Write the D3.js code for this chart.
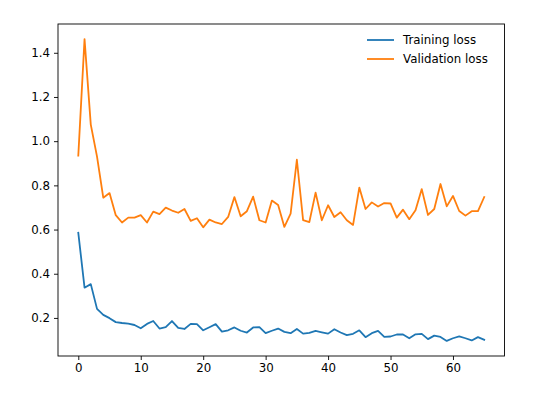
<!DOCTYPE html>
<html>
<head>
<meta charset="utf-8">
<script src="https://cdn.jsdelivr.net/npm/d3@7"></script>
<style>
  body { margin: 0; background: #fff; }
  svg text { font-family: "DejaVu Sans", sans-serif; fill: #000; }
</style>
</head>
<body>
<svg id="chart" width="546" height="397"></svg>
<script>
// loss values per epoch
const trainingLoss = [
    0.585, 0.337, 0.353, 0.241, 0.214, 0.199, 0.181, 0.177, 0.174, 0.168,
    0.153, 0.173, 0.186, 0.152, 0.158, 0.186, 0.155, 0.150, 0.173, 0.172,
    0.144, 0.158, 0.172, 0.138, 0.144, 0.157, 0.142, 0.134, 0.157, 0.158,
    0.131, 0.142, 0.152, 0.137, 0.131, 0.150, 0.129, 0.132, 0.141, 0.135,
    0.129, 0.149, 0.134, 0.122, 0.128, 0.144, 0.113, 0.131, 0.141, 0.114,
    0.116, 0.125, 0.125, 0.108, 0.126, 0.128, 0.104, 0.120, 0.114, 0.096,
    0.108, 0.116, 0.108, 0.098, 0.113, 0.101
];
const validationLoss = [
    0.935, 1.462, 1.075, 0.930, 0.744, 0.765, 0.665, 0.632, 0.654, 0.654,
    0.665, 0.632, 0.681, 0.670, 0.699, 0.686, 0.676, 0.693, 0.639, 0.651,
    0.610, 0.645, 0.632, 0.625, 0.657, 0.747, 0.660, 0.683, 0.749, 0.642,
    0.632, 0.731, 0.711, 0.612, 0.672, 0.916, 0.643, 0.634, 0.767, 0.642,
    0.710, 0.657, 0.678, 0.642, 0.621, 0.790, 0.693, 0.723, 0.704, 0.720,
    0.718, 0.654, 0.690, 0.647, 0.687, 0.783, 0.666, 0.693, 0.806, 0.705,
    0.752, 0.684, 0.663, 0.683, 0.683, 0.747
];
const seriesNames = ["Training loss", "Validation loss"];
const seriesColors = ["#1f77b4", "#ff7f0e"];
const xTicks = [0, 10, 20, 30, 40, 50, 60];
const yTicks = [0.2, 0.4, 0.6, 0.8, 1.0, 1.2, 1.4];

const svg = d3.select("#chart");
const plot = { left: 58, right: 504.5, top: 24, bottom: 356 };
const fontSize = 11.8;

const epochs = d3.range(trainingLoss.length);
const all = trainingLoss.concat(validationLoss);
const xPad = (epochs.length - 1) * 0.05;
const yMin = d3.min(all), yMax = d3.max(all);
const yPad = (yMax - yMin) * 0.05;

const x = d3.scaleLinear()
    .domain([-xPad, epochs.length - 1 + xPad])
    .range([plot.left, plot.right]);
const y = d3.scaleLinear()
    .domain([yMin - yPad, yMax + yPad])
    .range([plot.bottom, plot.top]);

// axes, matplotlib look: outward ticks, no domain path (spines drawn below)
const xAxis = svg.append("g")
    .attr("transform", `translate(0,${plot.bottom})`)
    .call(d3.axisBottom(x).tickValues(xTicks).tickSize(4).tickPadding(4)
        .tickFormat(d3.format("d")));
const yAxis = svg.append("g")
    .attr("transform", `translate(${plot.left},0)`)
    .call(d3.axisLeft(y).tickValues(yTicks).tickSize(4).tickPadding(4)
        .tickFormat(d3.format(".1f")));
[xAxis, yAxis].forEach((g) => {
    g.select(".domain").remove();
    g.selectAll(".tick line").attr("stroke", "#000").attr("stroke-width", 0.9);
    g.selectAll(".tick text")
        .attr("font-family", "DejaVu Sans, sans-serif")
        .attr("font-size", fontSize)
        .attr("fill", "#000");
});

const line = d3.line()
    .x((d, i) => x(epochs[i]))
    .y((d) => y(d));

[trainingLoss, validationLoss].forEach((series, k) => {
    svg.append("path")
        .datum(series)
        .attr("fill", "none")
        .attr("stroke", seriesColors[k])
        .attr("stroke-width", 1.8)
        .attr("stroke-linejoin", "round")
        .attr("stroke-linecap", "square")
        .attr("d", line);
});

// spines
svg.append("rect")
    .attr("x", plot.left)
    .attr("y", plot.top)
    .attr("width", plot.right - plot.left)
    .attr("height", plot.bottom - plot.top)
    .attr("fill", "none")
    .attr("stroke", "#000")
    .attr("stroke-width", 0.9);

// legend, upper right
const legend = svg.append("g").attr("transform", "translate(367,40)");
seriesNames.forEach((name, k) => {
    const row = legend.append("g").attr("transform", `translate(0,${k * 19})`);
    row.append("line")
        .attr("x1", 0).attr("x2", 27)
        .attr("stroke", seriesColors[k])
        .attr("stroke-width", 1.8);
    row.append("text")
        .attr("x", 36)
        .attr("dy", "0.35em")
        .attr("font-size", fontSize)
        .text(name);
});
</script>
</body>
</html>
